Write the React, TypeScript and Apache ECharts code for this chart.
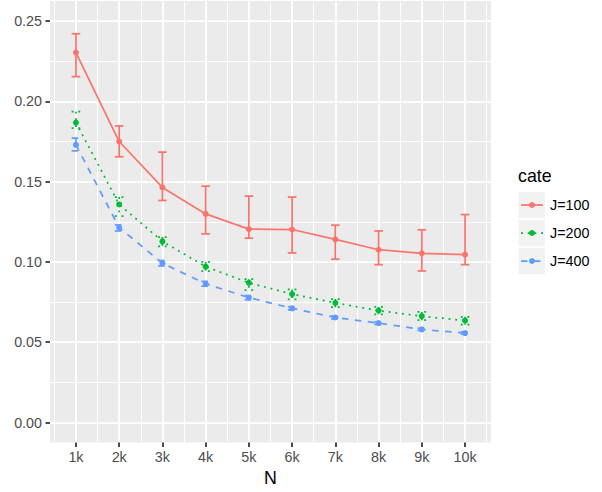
import React, { useEffect, useRef } from "react";
import * as echarts from "echarts";

const categories = ["1k", "2k", "3k", "4k", "5k", "6k", "7k", "8k", "9k", "10k"];
const yTicks = [0, 0.05, 0.1, 0.15, 0.2, 0.25];
const yMinorTicks = [0.025, 0.075, 0.125, 0.175, 0.225];
const seriesNames = ["J=100", "J=200", "J=400"];
const colors = ["#F8766D", "#00BA38", "#619CFF"];

const mean100 = [0.2304, 0.175, 0.1464, 0.1299, 0.1204, 0.1202, 0.114, 0.1076, 0.1054, 0.1045];
const low100 = [0.2154, 0.1655, 0.1383, 0.1175, 0.1148, 0.1056, 0.1017, 0.0983, 0.0944, 0.0983];
const high100 = [0.2421, 0.1847, 0.1684, 0.1472, 0.141, 0.1404, 0.1229, 0.1193, 0.12, 0.1295];

const mean200 = [0.1868, 0.1358, 0.1128, 0.0971, 0.087, 0.08, 0.0745, 0.0697, 0.0662, 0.0635];
const low200 = [0.1833, 0.1286, 0.1097, 0.0943, 0.0825, 0.0767, 0.0718, 0.0674, 0.0637, 0.0609];
const high200 = [0.1936, 0.1404, 0.1155, 0.1, 0.0893, 0.0829, 0.0769, 0.072, 0.0689, 0.0658];

const mean400 = [0.1729, 0.1214, 0.0992, 0.0864, 0.0778, 0.0711, 0.0654, 0.0619, 0.058, 0.0557];
const low400 = [0.1692, 0.1193, 0.0975, 0.0849, 0.0765, 0.0701, 0.0645, 0.0611, 0.0573, 0.055];
const high400 = [0.1771, 0.1231, 0.1009, 0.0879, 0.079, 0.0721, 0.0663, 0.0627, 0.0587, 0.0564];

const means = [mean100, mean200, mean400];
const lows = [low100, low200, low400];
const highs = [high100, high200, high400];
const dashes: (number[] | null)[] = [null, [1.9, 4.8], [6.5, 6.5]];

const FONT = "Liberation Sans, Arial, Helvetica, sans-serif";
const LW = 1.75;

export default function App() {
  const ref = useRef<HTMLDivElement>(null);
  useEffect(() => {
    document.body.style.margin = "0";
    if (!ref.current) return;
    const chart = echarts.init(ref.current, null, { renderer: "svg" });
    const xIdx = categories.map((_, i) => i);
    const xMinor = [-0.5, ...xIdx.map((i) => i + 0.5)];

    const lineSeries = seriesNames.map((name, s) => ({
      name,
      type: "line",
      xAxisIndex: 0,
      yAxisIndex: 0,
      data: means[s].map((v, i) => [i, v]),
      symbol: "circle",
      symbolSize: 6,
      showSymbol: true,
      lineStyle: { color: colors[s], width: LW, type: dashes[s] ?? "solid" },
      itemStyle: { color: colors[s] },
      z: 3,
    }));

    const errSeries = seriesNames.map((name, s) => ({
      name: name + " err",
      type: "custom",
      xAxisIndex: 0,
      yAxisIndex: 0,
      data: means[s].map((_, i) => [i, lows[s][i], highs[s][i]]),
      encode: { x: 0, y: [1, 2] },
      z: 4,
      renderItem: (params: any, api: any) => {
        const x = api.value(0);
        const top = api.coord([x, api.value(2)]);
        const bot = api.coord([x, api.value(1)]);
        const hw = api.size([0.2, 0])[0] / 2;
        const style: any = { stroke: colors[s], lineWidth: LW, fill: null };
        if (dashes[s]) style.lineDash = dashes[s];
        return {
          type: "group",
          children: [
            { type: "line", shape: { x1: top[0], y1: top[1], x2: bot[0], y2: bot[1] }, style },
            { type: "line", shape: { x1: top[0] - hw, y1: top[1], x2: top[0] + hw, y2: top[1] }, style },
            { type: "line", shape: { x1: bot[0] - hw, y1: bot[1], x2: bot[0] + hw, y2: bot[1] }, style },
          ],
        };
      },
    }));

    const legendGraphics: any[] = [
      {
        type: "text",
        left: 518,
        top: 167,
        style: { text: "cate", fontSize: 17.8, fontFamily: FONT, fill: "#000000" },
      },
    ];
    seriesNames.forEach((name, s) => {
      const y0 = 191 + s * 28;
      const cy = y0 + 14;
      legendGraphics.push({
        type: "rect",
        shape: { x: 518.5, y: y0 + 0.8, width: 26.4, height: 26.4 },
        style: { fill: "#f2f2f2" },
      });
      const ls: any = { stroke: colors[s], lineWidth: LW };
      if (dashes[s]) ls.lineDash = dashes[s];
      legendGraphics.push({
        type: "line",
        shape: { x1: 521, y1: cy, x2: 543, y2: cy },
        style: ls,
      });
      legendGraphics.push({
        type: "circle",
        shape: { cx: 532, cy, r: 3 },
        style: { fill: colors[s] },
      });
      legendGraphics.push({
        type: "text",
        x: 550,
        y: cy,
        style: {
          text: name,
          fontSize: 14.3,
          fontFamily: FONT,
          fill: "#000000",
          verticalAlign: "middle",
          align: "left",
        },
      });
    });

    chart.setOption({
      animation: false,
      grid: {
        left: 50,
        right: 111,
        top: 1,
        bottom: 46,
        show: true,
        backgroundColor: "#ebebeb",
        borderWidth: 0,
        containLabel: false,
      },
      xAxis: [
        {
          type: "value",
          min: -0.6,
          max: 9.6,
          name: "N",
          nameLocation: "middle",
          nameGap: 25,
          nameTextStyle: { fontSize: 17.8, fontFamily: FONT, color: "#000000" },
          axisLine: { show: false, onZero: false },
          axisTick: { show: true, length: 4.5, customValues: xIdx, lineStyle: { color: "#333333", width: LW } },
          axisLabel: {
            show: true,
            customValues: xIdx,
            margin: 7.5,
            fontSize: 14.3,
            fontFamily: FONT,
            color: "#4d4d4d",
            formatter: (v: number) => categories[Math.round(v)] ?? "",
          },
          splitLine: { show: true, lineStyle: { color: "#ffffff", width: LW } },
        },
        {
          type: "value",
          min: -0.6,
          max: 9.6,
          position: "bottom",
          axisLine: { show: false, onZero: false },
          axisTick: { show: false, customValues: xMinor },
          axisLabel: { show: false, customValues: xMinor },
          splitLine: { show: true, lineStyle: { color: "#ffffff", width: 0.9 } },
        },
      ],
      yAxis: [
        {
          type: "value",
          min: -0.0125,
          max: 0.2625,
          axisLine: { show: false, onZero: false },
          axisTick: { show: true, length: 4.5, customValues: yTicks, lineStyle: { color: "#333333", width: LW } },
          axisLabel: {
            show: true,
            customValues: yTicks,
            margin: 8,
            fontSize: 14.3,
            fontFamily: FONT,
            color: "#4d4d4d",
            formatter: (v: number) => v.toFixed(2),
          },
          splitLine: { show: true, lineStyle: { color: "#ffffff", width: LW } },
        },
        {
          type: "value",
          min: -0.0125,
          max: 0.2625,
          position: "left",
          axisLine: { show: false, onZero: false },
          axisTick: { show: false, customValues: yMinorTicks },
          axisLabel: { show: false, customValues: yMinorTicks },
          splitLine: { show: true, lineStyle: { color: "#ffffff", width: 0.9 } },
        },
      ],
      series: [...lineSeries, ...errSeries],
      graphic: legendGraphics,
    });
    return () => chart.dispose();
  }, []);
  return <div ref={ref} style={{ width: 602, height: 492 }} />;
}
